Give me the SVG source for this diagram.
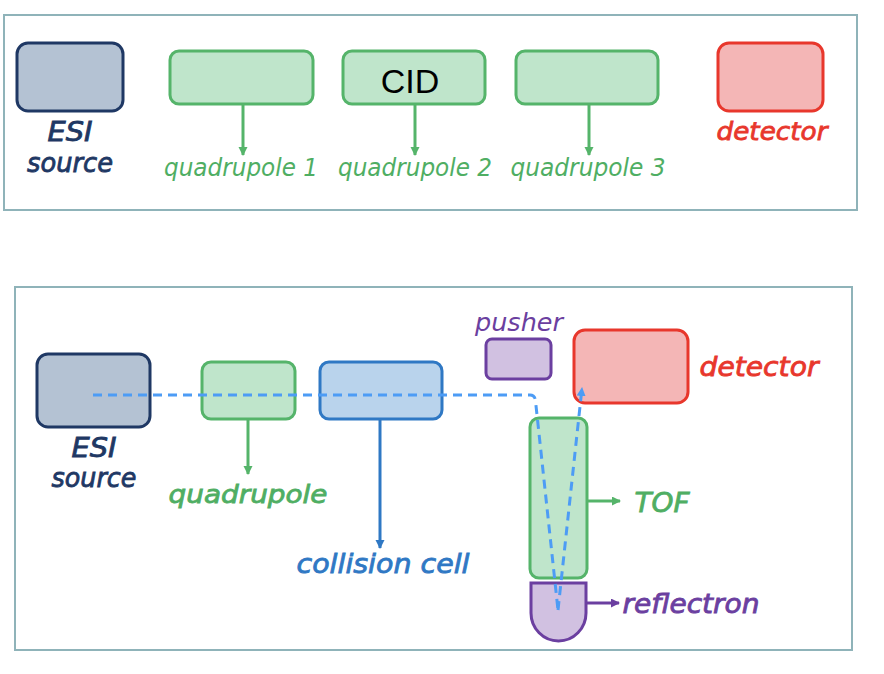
<svg xmlns="http://www.w3.org/2000/svg" width="884" height="674" viewBox="0 0 884 674">
<style>
.frame{fill:#ffffff;stroke:#8fb3b9;stroke-width:2}
.lbl{font-family:"DejaVu Sans",Verdana,sans-serif;font-style:italic;text-anchor:middle}
.b{stroke-width:0.8;paint-order:stroke}
.navy{fill:#b4c2d3;stroke:#1f3864;stroke-width:3}
.green{fill:#bfe5cb;stroke:#55b46a;stroke-width:3}
.red{fill:#f4b6b6;stroke:#e8372c;stroke-width:3}
.blue{fill:#b9d3ec;stroke:#2f78c4;stroke-width:3}
.purple{fill:#d1c1e1;stroke:#6b3fa0;stroke-width:3}
.tnavy{fill:#1f3864;stroke:#1f3864}
.tgreen{fill:#4fae63;stroke:#4fae63}
.tred{fill:#e8372c;stroke:#e8372c}
.tblue{fill:#2f78c4;stroke:#2f78c4}
.tpurple{fill:#6b3fa0;stroke:#6b3fa0}
.n{stroke-width:0}
.ag{stroke:#55b46a;stroke-width:3;fill:none}
.ab{stroke:#2f78c4;stroke-width:3;fill:none}
.ap{stroke:#6b3fa0;stroke-width:3;fill:none}
.dash{stroke:#4d9cf5;stroke-width:3;fill:none;stroke-dasharray:9 6}
</style>
<defs>
<marker id="mg" markerUnits="userSpaceOnUse" markerWidth="10" markerHeight="10" refX="8" refY="4.5" orient="auto"><path d="M0,0 L9,4.5 L0,9 Z" fill="#55b46a"/></marker>
<marker id="mb" markerUnits="userSpaceOnUse" markerWidth="10" markerHeight="10" refX="8" refY="4.5" orient="auto"><path d="M0,0 L9,4.5 L0,9 Z" fill="#2f78c4"/></marker>
<marker id="mp" markerUnits="userSpaceOnUse" markerWidth="10" markerHeight="10" refX="8" refY="4.5" orient="auto"><path d="M0,0 L9,4.5 L0,9 Z" fill="#6b3fa0"/></marker>
<marker id="md" markerUnits="userSpaceOnUse" markerWidth="10" markerHeight="10" refX="8" refY="4.5" orient="auto"><path d="M0,0 L9,4.5 L0,9 Z" fill="#4d9cf5"/></marker>
</defs>
<rect width="884" height="674" fill="#ffffff"/>
<g id="panel-top">
<rect class="frame" x="4" y="15" width="853" height="195"/>
</g>
<g id="panel-bottom">
<rect class="frame" x="15" y="287" width="837" height="363"/>
</g>

<g id="top-esi">
<rect class="navy" x="17" y="43" width="106" height="68" rx="11"/>
<text class="lbl b tnavy" x="70" y="141" font-size="26" textLength="45" lengthAdjust="spacingAndGlyphs">ESI</text>
<text class="lbl b tnavy" x="70" y="172" font-size="26" textLength="86" lengthAdjust="spacingAndGlyphs">source</text>
</g>
<g id="top-q1">
<rect class="green" x="170" y="51" width="143" height="53" rx="9"/>
<text class="lbl n tgreen" x="241" y="176" font-size="24" textLength="154" lengthAdjust="spacingAndGlyphs">quadrupole 1</text>
</g>
<g id="top-q2">
<rect class="green" x="343" y="51" width="142" height="53" rx="9"/>
<text x="410" y="93" font-family="'Liberation Sans',Arial,sans-serif" font-size="34" text-anchor="middle" fill="#000000">CID</text>
<text class="lbl n tgreen" x="415" y="176" font-size="24" textLength="154" lengthAdjust="spacingAndGlyphs">quadrupole 2</text>
</g>
<g id="top-q3">
<rect class="green" x="516" y="51" width="142" height="53" rx="9"/>
<text class="lbl n tgreen" x="588" y="176" font-size="24" textLength="155" lengthAdjust="spacingAndGlyphs">quadrupole 3</text>
</g>
<g id="top-detector">
<rect class="red" x="718" y="43" width="105" height="68" rx="11"/>
<text class="lbl b tred" x="772" y="140" font-size="25" textLength="111" lengthAdjust="spacingAndGlyphs">detector</text>
</g>

<g id="bot-esi">
<rect class="navy" x="37" y="354" width="113" height="73" rx="11"/>
<text class="lbl b tnavy" x="94" y="457" font-size="26" textLength="45" lengthAdjust="spacingAndGlyphs">ESI</text>
<text class="lbl b tnavy" x="94" y="487" font-size="26" textLength="85" lengthAdjust="spacingAndGlyphs">source</text>
</g>
<g id="bot-quadrupole">
<rect class="green" x="202" y="362" width="93" height="57" rx="9"/>
<text class="lbl b tgreen" x="248" y="503" font-size="25" textLength="159" lengthAdjust="spacingAndGlyphs">quadrupole</text>
</g>
<g id="bot-collision">
<rect class="blue" x="320" y="362" width="122" height="57" rx="9"/>
<text class="lbl b tblue" x="383" y="573" font-size="26" textLength="173" lengthAdjust="spacingAndGlyphs">collision cell</text>
</g>
<g id="bot-pusher">
<rect class="purple" x="486" y="339" width="65" height="40" rx="6"/>
<text class="lbl n tpurple" x="519" y="331" font-size="25" textLength="88" lengthAdjust="spacingAndGlyphs">pusher</text>
</g>
<g id="bot-detector">
<rect class="red" x="574" y="330" width="114" height="73" rx="11"/>
<text class="lbl b tred" x="759" y="376" font-size="26" textLength="119" lengthAdjust="spacingAndGlyphs">detector</text>
</g>
<g id="bot-tof">
<rect class="green" x="530" y="418" width="57" height="160" rx="9"/>
<text class="lbl b tgreen" x="662" y="512" font-size="27" textLength="55" lengthAdjust="spacingAndGlyphs">TOF</text>
</g>
<g id="bot-reflectron">
<path class="purple" d="M531,583 H586 V613 A27.5,28 0 0 1 531,613 Z"/>
<text class="lbl b tpurple" x="691" y="613" font-size="26" textLength="137" lengthAdjust="spacingAndGlyphs">reflectron</text>
</g>

<g id="connectors">
<line class="ag" x1="243" y1="104" x2="243" y2="155" marker-end="url(#mg)"/>
<line class="ag" x1="415" y1="104" x2="415" y2="155" marker-end="url(#mg)"/>
<line class="ag" x1="589" y1="104" x2="589" y2="155" marker-end="url(#mg)"/>
<line class="ag" x1="248" y1="420" x2="248" y2="474" marker-end="url(#mg)"/>
<line class="ab" x1="380" y1="420" x2="380" y2="548" marker-end="url(#mb)"/>
<line class="ag" x1="588" y1="501" x2="620" y2="501" marker-end="url(#mg)"/>
<line class="ap" x1="587" y1="603" x2="619" y2="603" marker-end="url(#mp)"/>
<path class="dash" d="M93,395 H530 Q535,395 535.5,401 L558,610"/>
<path class="dash" d="M558,610 L582,388" marker-end="url(#md)"/>
</g>
</svg>
